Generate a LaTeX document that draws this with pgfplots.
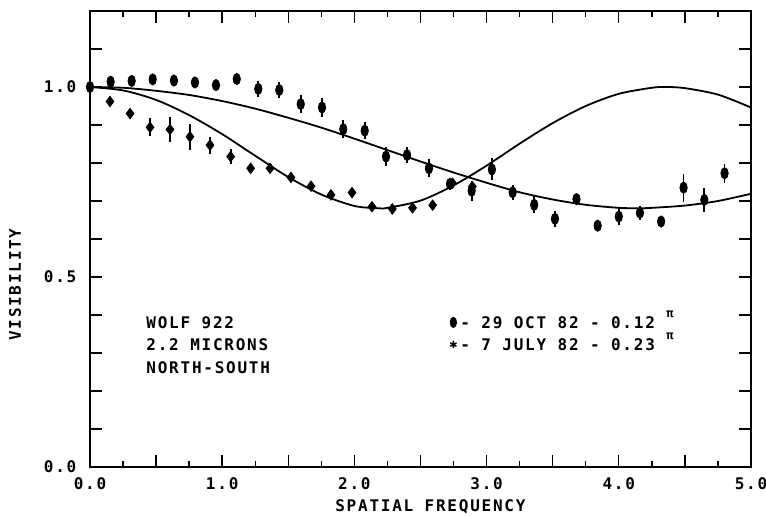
\documentclass[border=0pt]{standalone}
\usepackage{fontspec}
\usepackage{pgfplots}
\usepackage{pgfplotstable}
\pgfplotsset{compat=1.18}
\newfontfamily\plotfont{DejaVu Sans Mono}[LetterSpace=11]
\newcommand\pf{\plotfont\bfseries\fontsize{8}{11.25}\selectfont}
\newcommand\pisup{\raisebox{5.6pt}{\fontsize{6}{6}\selectfont π}}

% 29 Oct 82 (filled ovals)
\pgfplotstableread{
x y e
0.000 1.000 0
0.156 1.014 0.012
0.315 1.016 0.012
0.474 1.020 0.012
0.635 1.017 0.012
0.794 1.012 0.012
0.953 1.005 0.014
1.110 1.021 0.012
1.273 0.995 0.022
1.432 0.992 0.020
1.594 0.955 0.024
1.755 0.946 0.025
1.916 0.889 0.024
2.078 0.885 0.023
2.239 0.817 0.026
2.398 0.821 0.020
2.564 0.786 0.024
2.723 0.745 0.015
2.887 0.727 0.026
3.040 0.783 0.029
3.197 0.723 0.020
3.360 0.690 0.022
3.517 0.653 0.021
3.680 0.705 0.016
3.840 0.635 0.012
4.000 0.659 0.023
4.160 0.669 0.018
4.320 0.646 0.013
4.490 0.735 0.037
4.647 0.703 0.032
4.800 0.773 0.025
}\octdata

% 7 July 82 (crosses)
\pgfplotstableread{
x y e
0.151 0.962 0.008
0.303 0.930 0.012
0.454 0.894 0.024
0.605 0.888 0.032
0.756 0.869 0.034
0.908 0.847 0.022
1.064 0.817 0.020
1.215 0.786 0.012
1.362 0.786 0.010
1.520 0.762 0.010
1.672 0.739 0.010
1.823 0.716 0.012
1.982 0.722 0.012
2.133 0.685 0.010
2.287 0.679 0.012
2.440 0.682 0.014
2.592 0.689 0.012
2.742 0.747 0.012
2.892 0.738 0.012
}\juldata

\begin{document}
\begin{tikzpicture}
\begin{axis}[
  at={(0,0)}, anchor=south west, scale only axis,
  width=330.5pt, height=228pt,
  xmin=0, xmax=5, ymin=0, ymax=1.2,
  clip=false,
  axis line style={line width=0.8pt},
  tick align=inside,
  xtick={0,0.5,1,1.5,2,2.5,3,3.5,4,4.5,5},
  xticklabels={0.0,,1.0,,2.0,,3.0,,4.0,,5.0},
  minor x tick num=1,
  ytick={0,0.1,0.2,0.3,0.4,0.5,0.6,0.7,0.8,0.9,1.0,1.1,1.2},
  yticklabels={0.0,,,,,0.5,,,,,1.0,,},
  major tick length=6pt, minor tick length=3pt,
  every tick/.style={black, line width=0.7pt},
  tick label style={font=\pf},
  xticklabel style={yshift=-1.8pt},
  yticklabel style={xshift=-3.3pt},
  xlabel={SPATIAL FREQUENCY}, ylabel={VISIBILITY},
  label style={font=\pf},
  xlabel style={at={(axis description cs:0.515,-0.0875)}, anchor=center},
  ylabel style={at={(axis description cs:-0.1135,0.40)}, anchor=center},
  legend style={draw=none, fill=none, at={(axis cs:2.708,0.397)}, anchor=north west,
    inner sep=0pt, row sep=5.25pt, column sep=0pt, font=\pf,
    nodes={inner sep=0pt, text height=5.85pt, text depth=0pt}},
  legend cell align=left,
]
\addplot[only marks, mark=*, mark size=2.8pt,
  mark options={xscale=0.66, fill=black, draw=black},
  legend image code/.code={\path[draw=none, fill=none] (0pt,-2.9pt) rectangle (6pt,2.9pt);
    \fill (2.5pt,0pt) ellipse [x radius=1.6pt, y radius=2.6pt];},
  error bars/.cd, y dir=both, y explicit, error mark=none,
  error bar style={line width=0.9pt}]
  table[x=x, y=y, y error=e] {\octdata};
\addlegendentry{- 29 OCT 82 - 0.12 \pisup}
\addplot[only marks, mark=diamond*, mark size=2.6pt,
  mark options={fill=black, draw=black},
  legend image code/.code={\path[draw=none, fill=none] (0pt,-2.9pt) rectangle (6pt,2.9pt);
    \draw[line width=0.7pt, mark=asterisk, mark size=1.8pt] plot coordinates {(2.5pt,0pt)};},
  error bars/.cd, y dir=both, y explicit, error mark=none,
  error bar style={line width=0.9pt}]
  table[x=x, y=y, y error=e] {\juldata};
\addlegendentry{- 7 JULY 82 - 0.23 \pisup}

% model curves
\addplot[forget plot, smooth, line width=0.9pt] coordinates {
(0,1.000) (0.25,0.991) (0.5,0.966) (0.75,0.926) (1.0,0.876) (1.25,0.819)
(1.5,0.763) (1.75,0.717) (2.0,0.687) (2.18,0.681) (2.25,0.682) (2.5,0.701)
(2.75,0.741) (3.0,0.793) (3.25,0.851) (3.5,0.905) (3.75,0.950) (4.0,0.982)
(4.25,0.998) (4.36,1.000) (4.5,0.997) (4.75,0.980) (5.0,0.946)};
\addplot[forget plot, smooth, line width=0.9pt] coordinates {
(0,1.000) (0.25,0.998) (0.5,0.990) (0.75,0.979) (1.0,0.963) (1.25,0.943)
(1.5,0.919) (1.75,0.893) (2.0,0.864) (2.25,0.834) (2.5,0.804) (2.75,0.775)
(3.0,0.748) (3.25,0.723) (3.5,0.704) (3.75,0.690) (4.0,0.682) (4.15,0.681)
(4.25,0.682) (4.5,0.688) (4.75,0.700) (5.0,0.719)};

\node[anchor=north west, align=left, inner sep=0pt, font=\pf]
  at (axis cs:0.424,0.397) {WOLF 922\\2.2 MICRONS\\NORTH-SOUTH};
\end{axis}
\pgfresetboundingbox
\path[use as bounding box] (-45pt,-24pt) rectangle (338pt,233.5pt);
\end{tikzpicture}
\end{document}
